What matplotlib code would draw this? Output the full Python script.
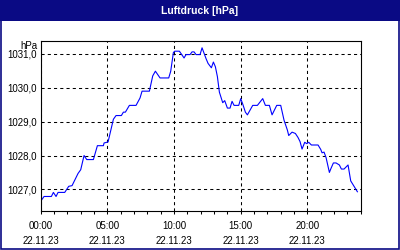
import numpy as np
import pandas as pd
import matplotlib
matplotlib.use('Agg')
import matplotlib.pyplot as plt
import matplotlib.dates as mdates
from matplotlib.ticker import FixedLocator
from matplotlib.patches import Rectangle

# hours after midnight 22.11.23, pressure in hPa
hours = [0.0, 0.25, 0.8, 0.95, 1.15, 1.3, 1.8, 2.1, 2.35, 2.8, 3.0, 3.25, 3.45, 3.95,
         4.25, 4.7, 4.75, 5.05, 5.45, 5.65, 6.05, 6.2, 6.35, 6.65, 7.15, 7.45, 7.6,
         8.15, 8.4, 8.6, 8.95, 9.6, 9.75, 9.95, 10.05, 10.4, 10.75, 10.9, 11.2, 11.35,
         11.5, 11.65, 11.95, 12.1, 12.4, 12.55, 12.8, 12.95, 13.1, 13.25, 13.4, 13.65,
         13.8, 14.0, 14.2, 14.35, 14.5, 14.85, 15.0, 15.15, 15.35, 15.5, 15.9, 16.25,
         16.65, 16.85, 17.15, 17.35, 17.7, 18.0, 18.25, 18.5, 18.6, 18.85, 19.1, 19.3,
         19.45, 19.6, 19.8, 19.95, 20.1, 20.3, 20.8, 21.0, 21.1, 21.25, 21.4, 21.65,
         21.75, 21.95, 22.15, 22.4, 22.55, 22.75, 23.05, 23.25, 23.5, 23.75]
druck = [1026.65, 1026.79, 1026.79, 1026.91, 1026.79, 1026.91, 1026.91, 1027.09, 1027.11,
         1027.47, 1027.58, 1028.00, 1027.88, 1027.88, 1028.29, 1028.29, 1028.37, 1028.40,
         1029.07, 1029.18, 1029.18, 1029.28, 1029.28, 1029.48, 1029.48, 1029.70, 1029.90,
         1029.90, 1030.35, 1030.49, 1030.29, 1030.29, 1030.49, 1031.04, 1031.08, 1031.08,
         1030.88, 1030.98, 1030.98, 1031.06, 1031.06, 1030.98, 1030.98, 1031.18, 1030.86,
         1030.72, 1030.59, 1030.76, 1030.62, 1030.33, 1029.87, 1029.56, 1029.62, 1029.40,
         1029.40, 1029.60, 1029.48, 1029.48, 1029.68, 1029.52, 1029.28, 1029.20, 1029.48,
         1029.48, 1029.68, 1029.48, 1029.48, 1029.20, 1029.48, 1029.48, 1029.04, 1028.75,
         1028.59, 1028.69, 1028.65, 1028.53, 1028.41, 1028.19, 1028.39, 1028.35, 1028.39,
         1028.31, 1028.31, 1028.18, 1028.08, 1028.10, 1027.94, 1027.50, 1027.60, 1027.78,
         1027.78, 1027.72, 1027.60, 1027.60, 1027.72, 1027.25, 1027.09, 1026.93]
major_hours = [0, 5, 10, 15, 20]
yticks = [1027, 1028, 1029, 1030, 1031]
ytick_labels = ['1027,0', '1028,0', '1029,0', '1030,0', '1031,0']

navy = '#0a0a84'
plt.rcParams['font.family'] = ['Liberation Sans', 'DejaVu Sans']

day = pd.Timestamp('2023-11-22')
t = day + pd.to_timedelta(hours, unit='h')

fig = plt.figure(figsize=(4, 2.5), dpi=100)
# title bar and frame
fig.patches.append(Rectangle((0, 0.918), 1, 0.082, transform=fig.transFigure,
                             facecolor=navy, edgecolor='none', zorder=0))
fig.patches.append(Rectangle((0.002, 0.003), 0.996, 0.994, transform=fig.transFigure,
                             facecolor='none', edgecolor=navy, lw=1.2, zorder=1))
fig.text(0.5, 0.957, 'Luftdruck [hPa]', color='white', fontsize=7.5, fontweight='bold',
         ha='center', va='center')

ax = fig.add_axes([0.1018, 0.1572, 0.8, 0.68])
ax.plot(t, druck, color='#0000ff', lw=0.8)

ax.set_xlim(day, day + pd.Timedelta(hours=24))
ax.set_ylim(1026.37, 1031.39)
ax.set_yticks(yticks)
ax.set_yticklabels(ytick_labels)

major_t = mdates.date2num(day + pd.to_timedelta(major_hours, unit='h'))
ax.xaxis.set_major_locator(FixedLocator(major_t))
ax.xaxis.set_minor_locator(mdates.HourLocator())
ax.xaxis.set_major_formatter(mdates.DateFormatter('%H:%M\n%d.%m.%y'))

ax.tick_params(axis='x', which='both', length=2.2, width=0.75, direction='out',
               labelsize=7, pad=5)
ax.tick_params(axis='y', length=0, labelsize=7, pad=2.8)
for lab in ax.get_xticklabels():
    lab.set_linespacing(1.6)

ax.grid(True, which='major', color='black', lw=0.75, linestyle=(0, (3, 3)))
for sp in ax.spines.values():
    sp.set_linewidth(0.8)
    sp.set_color('black')

ax.text(-0.01, 1.0, 'hPa', transform=ax.transAxes, fontsize=7, ha='right', va='top')

plt.savefig('out.png', dpi=100)
